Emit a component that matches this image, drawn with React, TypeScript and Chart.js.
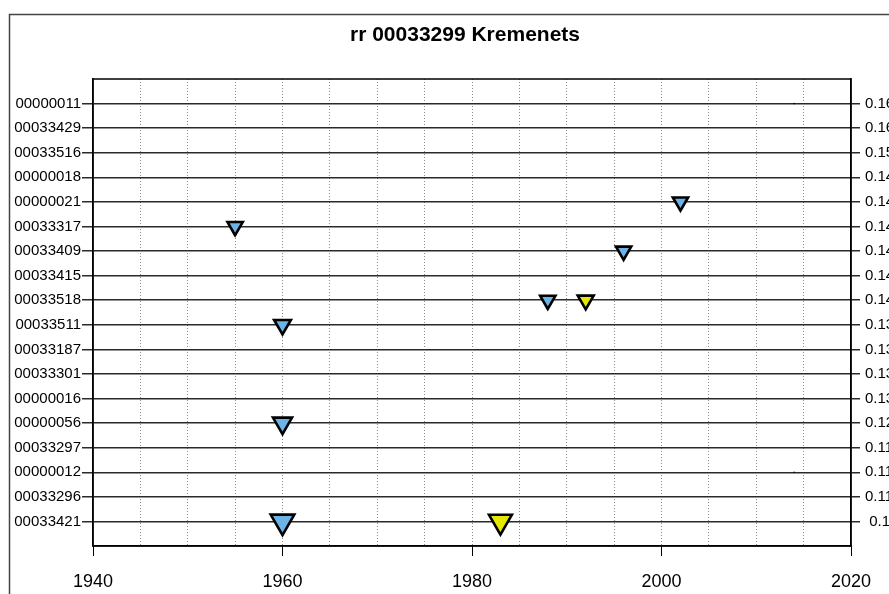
import React, { useEffect, useRef } from "react";
import { Chart, registerables } from "chart.js";

Chart.register(...registerables);

const titleText = "rr 00033299 Kremenets";

const rowLabels = [
  "00000011", "00033429", "00033516", "00000018", "00000021", "00033317",
  "00033409", "00033415", "00033518", "00033511", "00033187", "00033301",
  "00000016", "00000056", "00033297", "00000012", "00033296", "00033421",
];

const rightLabels = [
  "0.165", "0.161", "0.153", "0.149", "0.148", "0.146",
  "0.145", "0.143", "0.141", "0.139", "0.136", "0.134",
  "0.131", "0.125", "0.119", "0.117", "0.113", " 0.1",
];

const xTickLabels = [1940, 1960, 1980, 2000, 2020];

const blueRows = ["00000021", "00033317", "00033409", "00033518", "00033511", "00000056", "00033421"];
const blueYears = [2002, 1955, 1996, 1988, 1960, 1960, 1960];
const blueWeights = [2, 2, 2, 2, 2.2, 2.5, 3.1];

const yellowRows = ["00033518", "00033421"];
const yellowYears = [1992, 1983];
const yellowWeights = [2.1, 3.0];

const dotRows = ["00000011", "00000012"];
const dotYears = [2014, 2014];

const FONT = "'Liberation Sans', Arial, Helvetica, sans-serif";

export default function App() {
  const ref = useRef<HTMLCanvasElement | null>(null);

  useEffect(() => {
    const canvas = ref.current;
    if (!canvas) return;
    const idx = (name: string) => rowLabels.indexOf(name);

    const framePlugin = {
      id: "frame",
      beforeDraw(chart: any) {
        const ctx = chart.ctx;
        ctx.save();
        ctx.fillStyle = "#ffffff";
        ctx.fillRect(0, 0, chart.width, chart.height);
        ctx.strokeStyle = "#444";
        ctx.lineWidth = 1.5;
        ctx.strokeRect(1.5, 6.5, 3000, 3000);
        ctx.restore();
      },
      afterDraw(chart: any) {
        const ctx = chart.ctx;
        const a = chart.chartArea;
        ctx.save();
        ctx.strokeStyle = "#000";
        ctx.lineWidth = 1.5;
        ctx.strokeRect(a.left, a.top, a.right - a.left, a.bottom - a.top);
        ctx.fillStyle = "#000";
        ctx.font = `bold 21px ${FONT}`;
        ctx.textAlign = "center";
        ctx.textBaseline = "middle";
        ctx.fillText(titleText, 465 - 8, 27.5);
        ctx.restore();
      },
    };

    const chart = new Chart(canvas, {
      type: "scatter",
      data: {
        datasets: [
          {
            label: "dots",
            data: dotRows.map((r, i) => ({ x: dotYears[i], y: idx(r) })),
            pointStyle: "circle",
            pointRadius: 0.8,
            backgroundColor: "#000",
            borderColor: "#000",
            borderWidth: 0,
          },
          {
            label: "blue",
            data: blueRows.map((r, i) => ({ x: blueYears[i], y: idx(r) })),
            pointStyle: "triangle",
            rotation: 180,
            pointRadius: blueWeights.map((w) => w * 4.4),
            backgroundColor: "#6CB3E6",
            borderColor: "#000",
            borderWidth: 2.6,
          },
          {
            label: "yellow",
            data: yellowRows.map((r, i) => ({ x: yellowYears[i], y: idx(r) })),
            pointStyle: "triangle",
            rotation: 180,
            pointRadius: yellowWeights.map((w) => w * 4.4),
            backgroundColor: "#E6E600",
            borderColor: "#000",
            borderWidth: 2.6,
          },
        ],
      },
      options: {
        animation: false,
        responsive: false,
        maintainAspectRatio: false,
        layout: { padding: { top: 71, left: 0, right: 0, bottom: 0 } },
        plugins: {
          legend: { display: false },
          tooltip: { enabled: false },
          title: { display: false },
        },
        scales: {
          x: {
            type: "linear",
            position: "bottom",
            min: 1940,
            max: 2020,
            afterBuildTicks: (s: any) => {
              s.ticks = xTickLabels.map((v) => ({ value: v }));
            },
            afterFit: (s: any) => {
              s.height = 48;
            },
            ticks: {
              padding: 15,
              color: "#000",
              font: { family: FONT, size: 18 },
              maxRotation: 0,
              autoSkip: false,
              callback: (v: any) => String(v),
            },
            grid: {
              drawOnChartArea: false,
              drawTicks: true,
              tickLength: 10,
              tickColor: "#000",
              tickWidth: 1,
            },
            border: { display: true, color: "#000", width: 1.5 },
          },
          x2: {
            type: "linear",
            position: "bottom",
            min: 1940,
            max: 2020,
            afterBuildTicks: (s: any) => {
              const t = [];
              for (let v = 1945; v < 2020; v += 5) t.push({ value: v });
              s.ticks = t;
            },
            afterFit: (s: any) => {
              s.height = 0;
            },
            ticks: { display: false },
            grid: {
              drawOnChartArea: true,
              drawTicks: false,
              color: "#8a8a8a",
              lineWidth: 1,
            },
            border: { display: false, dash: [1, 2] },
          },
          y: {
            type: "linear",
            position: "left",
            min: -1,
            max: rowLabels.length,
            reverse: true,
            afterBuildTicks: (s: any) => {
              s.ticks = rowLabels.map((_, i) => ({ value: i }));
            },
            afterFit: (s: any) => {
              s.width = 85;
            },
            ticks: {
              padding: 1,
              color: "#000",
              font: { family: FONT, size: 15 },
              autoSkip: false,
              callback: (v: any) => rowLabels[v] ?? "",
            },
            grid: {
              drawOnChartArea: true,
              drawTicks: true,
              tickLength: 11,
              color: "#2a2a2a",
              tickColor: "#2a2a2a",
              lineWidth: 1.5,
            },
            border: { display: true, color: "#000", width: 1.5 },
          },
          yr: {
            type: "linear",
            position: "right",
            min: -1,
            max: rowLabels.length,
            reverse: true,
            afterBuildTicks: (s: any) => {
              s.ticks = rightLabels.map((_, i) => ({ value: i }));
            },
            afterFit: (s: any) => {
              s.width = 38;
            },
            ticks: {
              padding: 5,
              color: "#000",
              font: { family: FONT, size: 15 },
              autoSkip: false,
              callback: (v: any) => rightLabels[v] ?? "",
            },
            grid: {
              drawOnChartArea: false,
              drawTicks: true,
              tickLength: 9,
              tickColor: "#2a2a2a",
              lineWidth: 1.5,
            },
            border: { display: true, color: "#000", width: 1.5 },
          },
        },
      },
      plugins: [framePlugin],
    } as any);

    return () => chart.destroy();
  }, []);

  return (
    <div style={{ position: "fixed", left: 8, top: 8, width: 881, height: 586, overflow: "hidden" }}>
      <canvas ref={ref} width={881} height={586} style={{ display: "block", width: 881, height: 586 }} />
    </div>
  );
}
